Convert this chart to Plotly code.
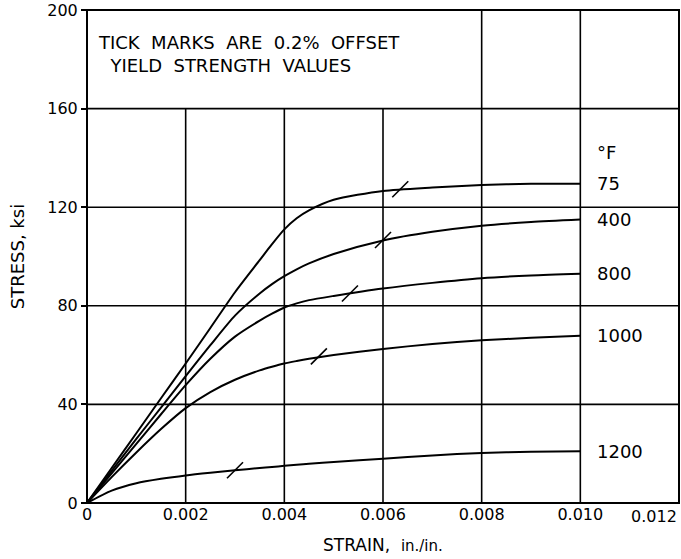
import plotly.graph_objects as go

# ---- data ----
strain = [0, 0.0005, 0.001, 0.0015, 0.002, 0.0025, 0.003, 0.0035, 0.00375, 0.004, 0.00425, 0.0045,
          0.005, 0.006, 0.007, 0.008, 0.009, 0.010]
temps = ["75", "400", "800", "1000", "1200"]
stress_75 = [0, 14.2, 28.3, 42.5, 56.6, 71, 85.5, 98.5, 105, 111, 115.5, 118.7, 123, 126.6, 128, 129, 129.5, 129.5]
stress_400 = [0, 13, 26, 38.7, 51.5, 64, 76, 85, 88.8, 92, 94.8, 97.2, 101, 106.5, 110, 112.5, 114, 115]
stress_800 = [0, 12, 24, 36, 47.8, 58.5, 67.5, 74, 76.8, 79.3, 81, 82.3, 84, 87, 89.3, 91.2, 92.3, 93]
stress_1000 = [0, 10.5, 20.5, 30, 38.5, 45, 50, 53.8, 55.3, 56.6, 57.6, 58.5, 60, 62.5, 64.5, 66, 67, 67.8]
stress_1200 = [0, 5, 8, 9.8, 11.2, 12.3, 13.3, 14.2, 14.6, 15.1, 15.5, 15.9, 16.6, 18, 19.3, 20.3, 20.8, 21]
yield_strain = [0.00635, 0.0060, 0.00533, 0.0047, 0.0030]
yield_stress = [127.3, 106.7, 85, 59.5, 13.3]
x_ticks = [0, 0.002, 0.004, 0.006, 0.008, 0.010, 0.012]
x_tick_text = ["0", "0.002", "0.004", "0.006", "0.008", "0.010", "0.012"]
y_ticks = [0, 40, 80, 120, 160, 200]
note_lines = ["TICK MARKS ARE 0.2% OFFSET", "YIELD STRENGTH VALUES"]

series = [stress_75, stress_400, stress_800, stress_1000, stress_1200]
FONT = "DejaVu Sans"
BLACK = "black"

fig = go.Figure()
for t, s in zip(temps, series):
    fig.add_trace(go.Scatter(x=strain, y=s, mode="lines", name=t,
                             line=dict(color=BLACK, width=2, shape="spline", smoothing=0.7),
                             showlegend=False, hoverinfo="skip"))

fig.add_trace(go.Scatter(x=yield_strain, y=yield_stress, mode="markers",
                         marker=dict(symbol="line-ne", size=16, line=dict(color=BLACK, width=1.6)),
                         showlegend=False, hoverinfo="skip"))

shapes = []
box_top = y_ticks[-1]
band = y_ticks[-2]
for xv in x_ticks[1:-1]:
    y1 = box_top if xv >= 0.008 else band
    shapes.append(dict(type="line", xref="x", yref="y", x0=xv, x1=xv, y0=0, y1=y1,
                       line=dict(color=BLACK, width=1.6), layer="below"))
for yv in y_ticks[1:-1]:
    shapes.append(dict(type="line", xref="x", yref="y", x0=x_ticks[0], x1=x_ticks[-1], y0=yv, y1=yv,
                       line=dict(color=BLACK, width=1.6), layer="below"))
# frame drawn in paper coordinates so it is not clipped at the plot edge
shapes.append(dict(type="rect", xref="paper", yref="paper", x0=0, x1=1, y0=0, y1=1,
                   line=dict(color=BLACK, width=2), layer="above"))

annotations = []
for t, s in zip(temps, series):
    annotations.append(dict(x=0.0103, y=s[-1], xref="x", yref="y", text=t, showarrow=False,
                            xanchor="left", yanchor="middle", font=dict(family=FONT, size=18, color=BLACK)))
annotations.append(dict(x=0.0103, y=142, xref="x", yref="y", text="°F", showarrow=False,
                        xanchor="left", yanchor="middle", font=dict(family=FONT, size=18, color=BLACK)))
sp = "&nbsp;&nbsp;"
note = note_lines[0].replace(" ", sp) + "<br>&nbsp;&nbsp;" + note_lines[1].replace(" ", sp)
annotations.append(dict(x=0.00018, y=182, xref="x", yref="y", text=note,
                        showarrow=False, xanchor="left", yanchor="middle", align="left",
                        font=dict(family=FONT, size=18, color=BLACK)))
# last x tick label, right-aligned at the frame edge
annotations.append(dict(x=x_ticks[-1], y=0, xref="x", yref="y", text=x_tick_text[-1], showarrow=False,
                        xanchor="right", yanchor="top", yshift=-2, font=dict(family=FONT, size=16, color=BLACK)))
# axis titles
annotations.append(dict(x=-0.117, y=0.5, xref="paper", yref="paper", text="STRESS, ksi", textangle=-90,
                        showarrow=False, xanchor="center", yanchor="middle",
                        font=dict(family=FONT, size=18, color=BLACK)))
annotations.append(dict(x=0.5, y=-0.085, xref="paper", yref="paper",
                        text="STRAIN,&nbsp;&nbsp;<span style='font-size:15px'>in./in.</span>",
                        showarrow=False, xanchor="center", yanchor="middle",
                        font=dict(family=FONT, size=17, color=BLACK)))

fig.update_layout(
    width=681, height=559,
    margin=dict(l=87, r=2, t=10, b=56),
    paper_bgcolor="white", plot_bgcolor="white",
    font=dict(family=FONT, size=16, color=BLACK),
    shapes=shapes, annotations=annotations,
    hovermode=False,
    xaxis=dict(range=[0, 0.012], tickvals=x_ticks[:-1], ticktext=x_tick_text[:-1], showgrid=False, zeroline=False,
               showline=False, ticks="", tickfont=dict(size=16), automargin=False, fixedrange=True),
    yaxis=dict(range=[0, 200], tickvals=y_ticks, showgrid=False, zeroline=False, showline=False,
               ticks="outside", ticklen=5, tickwidth=1.5, tickcolor=BLACK, tickfont=dict(size=16),
               automargin=False, fixedrange=True),
)

# remove the default page margin so the 681x559 figure fills the window exactly
fig.write_html("out.html", config={"displayModeBar": False},
               post_script="document.body.style.margin='0';document.body.style.overflow='hidden';")
